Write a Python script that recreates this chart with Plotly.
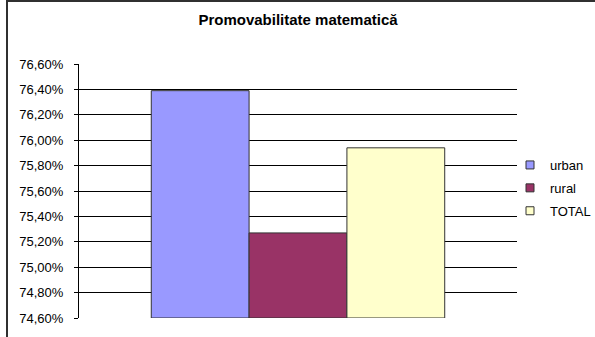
import plotly.graph_objects as go

categories = ["urban", "rural", "TOTAL"]
values = [0.7639, 0.7527, 0.7594]
colors = ["#9999FF", "#993366", "#FFFFCC"]
axis_min, axis_max = 0.746, 0.766
tick_vals = [0.746, 0.748, 0.750, 0.752, 0.754, 0.756, 0.758, 0.760, 0.762, 0.764, 0.766]

W, H = 595, 337
L, R, T, B = 79, 78, 64, 19

fig = go.Figure()
for name, v, c in zip(categories, values, colors):
    fig.add_trace(go.Bar(x=[""], y=[v - axis_min], base=axis_min, name=name, showlegend=False,
                         marker=dict(color=c, line=dict(color="#333333", width=1)), hoverinfo="skip"))
for name, c in zip(categories, colors):
    fig.add_trace(go.Scatter(x=[None], y=[None], mode="markers", name=name, legendgroup=name,
                             marker=dict(symbol="square", size=8, color=c, line=dict(color="#333333", width=1))))

def fx(px):
    return px / W

def fy(py):
    return 1 - py / H

frame = dict(color="#303030", width=2)
fig.add_shape(type="line", xref="paper", yref="paper",
              x0=fx(7), x1=fx(7), y0=fy(0), y1=fy(H), line=frame, layer="above")
fig.add_shape(type="line", xref="paper", yref="paper",
              x0=fx(7), x1=fx(W), y0=fy(1), y1=fy(1), line=frame, layer="above")

fig.update_layout(
    width=W, height=H,
    margin=dict(l=0, r=0, t=0, b=0, autoexpand=False),
    paper_bgcolor="white", plot_bgcolor="white",
    separators=",.",
    barmode="group", bargap=0.33, bargroupgap=0,
    title=dict(text="<b>Promovabilitate matematică</b>", x=fx((L + W - R) / 2), xanchor="center",
               y=fy(20), yanchor="middle",
               font=dict(family="Liberation Sans, Arial", size=15, color="black")),
    font=dict(family="Liberation Sans, Arial", size=13, color="black"),
    xaxis=dict(domain=[fx(L), fx(W - R)], showticklabels=False, showgrid=False, zeroline=False,
               showline=False, fixedrange=True),
    yaxis=dict(domain=[fy(H - B), fy(T)], range=[axis_min, axis_max], tickvals=tick_vals, tickformat=".2%",
               showgrid=True, gridcolor="#000000", gridwidth=1, showline=True, linecolor="#000000", linewidth=1,
               ticks="outside", ticklen=4, tickcolor="#000000", zeroline=False, tickfont=dict(size=13),
               fixedrange=True, ticklabelstandoff=8),
    legend=dict(x=fx(510), y=fy(150), xanchor="left", yanchor="top", font=dict(size=13),
                bgcolor="rgba(0,0,0,0)", itemwidth=30, tracegroupgap=3),
    showlegend=True,
)

fig.write_html("out.html", config={"displayModeBar": False},
               post_script="document.body.style.margin='0';document.body.style.overflow='hidden';")
